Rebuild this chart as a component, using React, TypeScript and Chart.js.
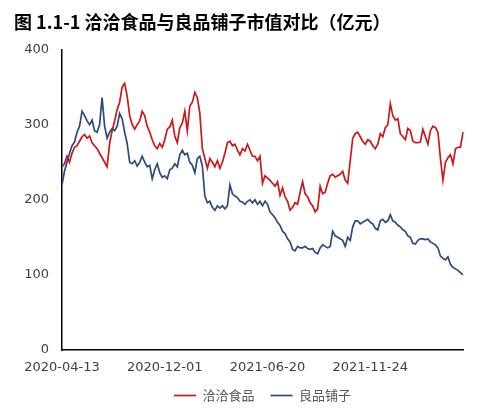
import React, { useEffect, useRef } from "react";
import { Chart, registerables } from "chart.js";

Chart.register(...registerables);

const TITLE = "图 1.1-1 洽洽食品与良品铺子市值对比（亿元）";
const seriesNames = ["洽洽食品", "良品铺子"];
const tickLabels = ["2020-04-13", "2020-12-01", "2021-06-20", "2021-11-24"];
const labelStep = 41;
const yTickValues = [0, 100, 200, 300, 400];

// 洽洽食品 market value (亿元)
const qiaqia = [
  244, 248, 258, 250, 262, 270, 272, 278, 284, 287,
  282, 285, 276, 272, 268, 262, 256, 250, 244, 275,
  292, 305, 320, 330, 350, 355, 338, 312, 300, 294,
  300, 305, 318, 312, 298, 290, 280, 272, 268, 275,
  270,
  280, 294, 297, 306, 285, 276, 296, 302, 318, 292,
  325, 330, 343, 336, 315, 268, 255, 242, 255, 250,
  244, 252, 242, 250, 262, 276, 278, 272, 274, 266,
  260, 268, 265, 274, 266, 258, 258, 252, 258, 222,
  232, 229, 226, 222, 218, 224, 206, 216, 204, 198,
  186, 190, 196, 194, 210, 224, 208, 204, 196, 192,
  184, 188, 218, 208, 210, 222, 232, 234, 230, 232,
  234, 238, 226, 222, 252, 282, 288, 290, 284, 278,
  274, 280, 278, 272, 268, 274, 288, 284, 296, 300,
  328, 312, 306, 308, 288, 284, 280, 295, 292, 278,
  276, 276, 277, 294, 284, 274, 292, 298, 296, 290,
  255, 226, 250, 256, 260, 248, 268, 270, 270, 290,
];

// 良品铺子 market value (亿元)
const liangpin = [
  220, 238, 250, 262, 272, 277, 290, 298, 318, 312,
  305, 300, 306, 292, 290, 300, 336, 298, 282, 290,
  295, 292, 298, 315, 308, 290, 275, 250, 248, 252,
  245, 250, 258, 250, 244, 246, 228, 240, 248, 236,
  230,
  232, 228, 240, 242, 248, 244, 260, 266, 260, 262,
  250, 246, 236, 255, 258, 245, 205, 196, 198, 190,
  186, 192, 189, 192, 188, 192, 220, 208, 205, 203,
  198, 197, 194, 198, 200, 196, 200, 194, 198, 192,
  198, 194, 184, 180, 176, 170, 166, 158, 155, 148,
  144, 134, 132, 138, 136, 136, 138, 135, 134, 135,
  130, 128, 136, 140, 138, 136, 138, 158, 152, 150,
  148, 146, 138, 150, 146, 164, 172, 172, 168, 170,
  172, 174, 170, 168, 162, 160, 172, 174, 170, 172,
  180, 172, 170, 166, 164, 160, 158, 152, 150, 142,
  141, 146, 148, 148, 147, 148, 144, 142, 140, 136,
  125, 122, 120, 124, 114, 110, 108, 106, 103, 100,
];

const categories = qiaqia.map((_, i) => String(i));

const RED = "#CC1818";
const BLUE = "#2E4A7D";
const TEXT = "#404040";
const CJK = "'Noto Sans CJK SC', 'Noto Sans', sans-serif";
const LATIN = "'DejaVu Sans', sans-serif";

export default function App() {
  const ref = useRef<HTMLCanvasElement | null>(null);

  useEffect(() => {
    if (!ref.current) return;
    const chart = new Chart(ref.current, {
      type: "line",
      data: {
        labels: categories,
        datasets: [
          {
            label: seriesNames[0],
            data: qiaqia,
            borderColor: RED,
            backgroundColor: RED,
            borderWidth: 1.7,
            pointRadius: 0,
            pointStyle: "line",
            tension: 0,
            order: 1,
          },
          {
            label: seriesNames[1],
            data: liangpin,
            borderColor: BLUE,
            backgroundColor: BLUE,
            borderWidth: 1.7,
            pointRadius: 0,
            pointStyle: "line",
            tension: 0,
            order: 0,
          },
        ],
      },
      options: {
        animation: false,
        responsive: false,
        maintainAspectRatio: false,
        layout: { padding: { left: 14, right: 26, top: 0, bottom: 0 } },
        plugins: {
          title: {
            display: true,
            text: TITLE,
            align: "start",
            color: "#000000",
            font: { family: CJK, size: 18, weight: "bold" },
            padding: { top: 11, bottom: 17 },
          },
          legend: {
            display: true,
            position: "bottom",
            fullSize: false,
            labels: {
              usePointStyle: true,
              pointStyle: "line",
              pointStyleWidth: 22,
              color: "#555555",
              font: { family: CJK, size: 13 },
              padding: 16,
              sort: (a: any, b: any) => a.datasetIndex - b.datasetIndex,
            },
          },
          tooltip: { enabled: false },
        },
        scales: {
          x: {
            type: "category",
            grid: { display: false, drawTicks: false, tickLength: 0 },
            border: { display: true, color: "#000000", width: 1.5 },
            ticks: {
              autoSkip: false,
              maxRotation: 0,
              minRotation: 0,
              color: TEXT,
              font: { family: LATIN, size: 13 },
              padding: 10,
              callback: (_v: any, i: number) =>
                i % labelStep === 0 ? tickLabels[i / labelStep] ?? "" : "",
            },
            afterFit: (s: any) => {
              s.height = 23;
            },
          },
          y: {
            min: yTickValues[0],
            max: yTickValues[yTickValues.length - 1],
            grid: { display: false, drawTicks: false, tickLength: 0 },
            border: { display: true, color: "#000000", width: 1.5 },
            ticks: {
              stepSize: 100,
              color: TEXT,
              font: { family: LATIN, size: 13 },
              padding: 13,
            },
            afterFit: (s: any) => {
              s.width = 48;
            },
          },
        },
      },
    });
    return () => chart.destroy();
  }, []);

  return (
    <div
      style={{
        position: "fixed",
        left: 0,
        top: 0,
        width: 489,
        height: 412,
        background: "#ffffff",
        overflow: "hidden",
      }}
    >
      <canvas ref={ref} width={489} height={412} style={{ width: 489, height: 412, display: "block" }} />
    </div>
  );
}
